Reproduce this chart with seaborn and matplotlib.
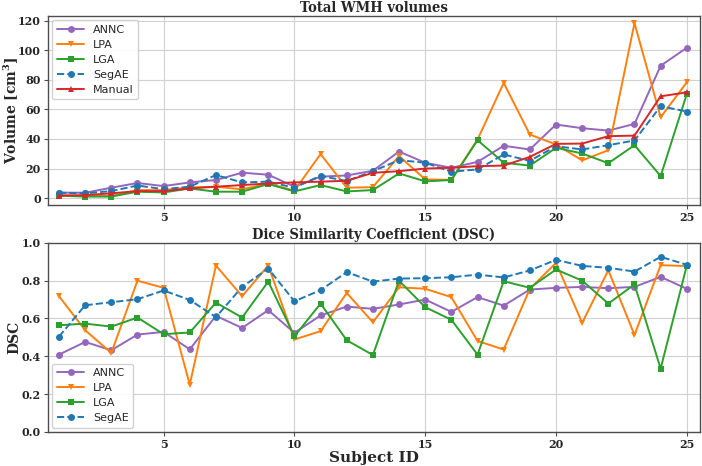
import seaborn as sns
import numpy as np
import matplotlib.pyplot as plt

subjects = list(range(1, 26))

# Total WMH volumes [cm^3]
vol_annc = [3.7, 3.6, 7.0, 10.2, 8.1, 10.6, 12.2, 17.2, 15.8, 7.7, 14.5, 15.3,
            18.5, 31.5, 23.9, 20.5, 24.5, 35.4, 32.9, 49.8, 47.3, 45.7, 50.2, 89.6, 101.8]
vol_lpa = [2.0, 1.4, 1.4, 5.4, 5.4, 7.2, 7.7, 5.9, 9.9, 5.0, 29.8, 7.0,
           7.4, 28.5, 12.6, 12.4, 39.6, 78.0, 43.0, 36.3, 25.5, 32.4, 118.5, 54.7, 78.4]
vol_lga = [1.6, 1.0, 1.0, 4.3, 3.8, 6.5, 4.3, 4.3, 9.5, 4.5, 8.8, 4.5,
           5.4, 16.7, 11.3, 12.2, 39.2, 23.9, 22.0, 34.0, 30.2, 23.6, 35.8, 14.9, 70.5]
vol_segae = [3.6, 3.2, 4.7, 8.5, 6.0, 7.7, 15.6, 10.6, 11.1, 7.0, 15.1, 11.5,
             18.2, 25.7, 23.9, 17.8, 19.4, 29.5, 25.2, 35.1, 32.9, 35.8, 39.0, 62.2, 58.6]
vol_manual = [1.6, 2.0, 3.2, 4.7, 4.7, 6.5, 7.7, 8.8, 9.9, 10.6, 11.1, 11.7,
              17.1, 18.2, 20.0, 20.5, 21.6, 22.0, 27.9, 36.7, 36.9, 41.9, 42.3, 68.9, 71.6]

# Dice similarity coefficient
dsc_annc = [0.409, 0.476, 0.432, 0.515, 0.529, 0.437, 0.614, 0.550, 0.644, 0.524, 0.616, 0.663,
            0.651, 0.674, 0.700, 0.635, 0.713, 0.668, 0.753, 0.762, 0.767, 0.760, 0.767, 0.820, 0.757]
dsc_lpa = [0.718, 0.538, 0.418, 0.800, 0.762, 0.250, 0.880, 0.718, 0.880, 0.489, 0.533, 0.735,
           0.580, 0.765, 0.757, 0.713, 0.481, 0.436, 0.757, 0.894, 0.577, 0.855, 0.513, 0.882, 0.877]
dsc_lga = [0.564, 0.573, 0.557, 0.605, 0.517, 0.526, 0.684, 0.605, 0.795, 0.506, 0.679, 0.485,
           0.407, 0.800, 0.660, 0.593, 0.409, 0.797, 0.762, 0.859, 0.800, 0.679, 0.780, 0.335, 0.880]
dsc_segae = [0.504, 0.670, 0.686, 0.702, 0.748, 0.698, 0.607, 0.767, 0.864, 0.691, 0.750, 0.845,
             0.795, 0.811, 0.813, 0.818, 0.832, 0.817, 0.854, 0.910, 0.878, 0.868, 0.848, 0.926, 0.884]

sns.set_style("whitegrid", {"axes.edgecolor": "0.3", "grid.color": "0.82",
                            "xtick.bottom": True, "ytick.left": True})
plt.rcParams['font.family'] = ['DejaVu Serif']
plt.rcParams['mathtext.fontset'] = 'dejavuserif'

styles = {
  "ANNC": dict(color="tab:purple", marker="o", ls="-"),
  "LPA": dict(color="tab:orange", marker="v", ls="-"),
  "LGA": dict(color="tab:green", marker="s", ls="-"),
  "SegAE": dict(color="tab:blue", marker="o", ls="--"),
  "Manual": dict(color="tab:red", marker="^", ls="-"),
}

fig, ax = plt.subplots(2, 1, figsize=(7.02, 4.66), dpi=100)
fig.subplots_adjust(left=0.068, right=0.997, top=0.966, bottom=0.073, hspace=0.2)

def draw(a, series):
  for name, vals in series:
    st = styles[name]
    sns.lineplot(x=subjects, y=vals, ax=a, color=st["color"], marker=st["marker"],
                 linestyle=st["ls"], markersize=5, markeredgewidth=0, linewidth=1.4,
                 label=name)

draw(ax[0], [("ANNC", vol_annc), ("LPA", vol_lpa), ("LGA", vol_lga),
             ("SegAE", vol_segae), ("Manual", vol_manual)])
draw(ax[1], [("ANNC", dsc_annc), ("LPA", dsc_lpa), ("LGA", dsc_lga),
             ("SegAE", dsc_segae)])

ax[0].set_ylim(-4.7, 123.4)
ax[0].set_yticks(range(0, 121, 20))
ax[1].set_ylim(0, 1.0)
ax[1].set_yticks(np.arange(0, 1.01, 0.2))
ax[1].yaxis.set_major_formatter(plt.FormatStrFormatter("%.1f"))
for a in ax:
  a.set_xlim(0.57, 25.5)
  a.set_xticks([5, 10, 15, 20, 25])
  a.tick_params(labelsize=8, length=3, width=0.8, color="0.3", pad=2)
  for lbl in a.get_xticklabels() + a.get_yticklabels():
    lbl.set_fontweight("bold")
  for s in a.spines.values():
    s.set_linewidth(1.0)

ax[0].set_title("Total WMH volumes", fontsize=10.5, fontweight="bold", pad=3,
                fontstretch="condensed")
ax[1].set_title("Dice Similarity Coefficient (DSC)", fontsize=10.5, fontweight="bold", pad=3,
                fontstretch="condensed")
ax[0].set_ylabel("Volume [cm$^\\mathbf{3}$]", fontsize=10, fontweight="bold")
ax[1].set_ylabel("DSC", fontsize=10, fontweight="bold")
ax[0].yaxis.set_label_coords(-0.041, 0.5)
ax[1].yaxis.set_label_coords(-0.041, 0.5)
ax[1].set_xlabel("Subject ID", fontsize=11, fontweight="bold", labelpad=1)
ax[0].set_xlabel("")

ax[0].legend(loc="upper left", prop={"family": "DejaVu Sans", "size": 8}, framealpha=0.9,
             handlelength=2.5, borderaxespad=0.4, labelspacing=0.45)
ax[1].legend(loc="lower left", prop={"family": "DejaVu Sans", "size": 8}, framealpha=0.9,
             handlelength=2.5, borderaxespad=0.4, labelspacing=0.45)

plt.savefig("out.png", dpi=100)
